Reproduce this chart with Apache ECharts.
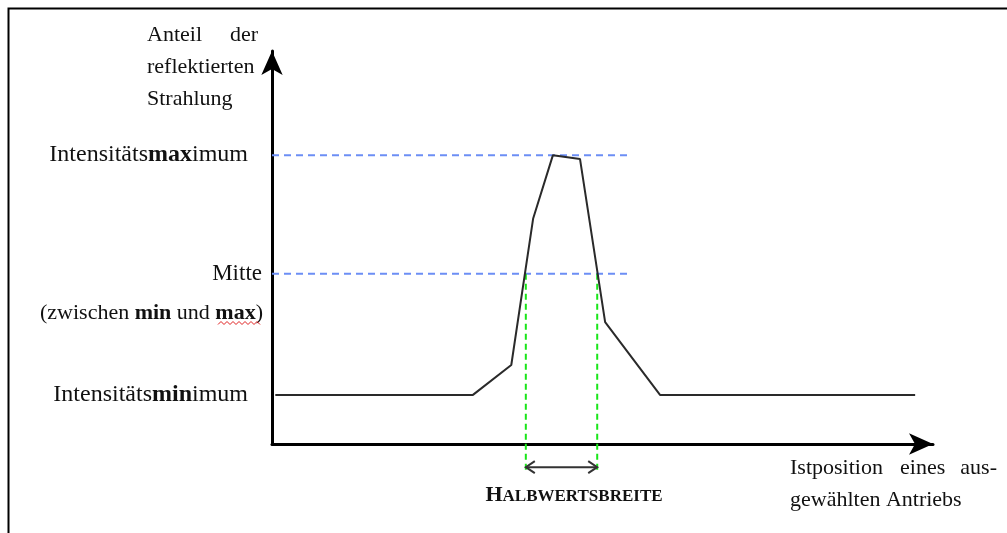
<!DOCTYPE html>
<html><head><meta charset="utf-8">
<script src="https://cdn.jsdelivr.net/npm/echarts@6/dist/echarts.min.js"></script>
<style>html,body{margin:0;padding:0;background:#fff}#c{width:1007px;height:533px}</style>
</head><body><div id="c"></div>
<script>
// ---- data (arbitrary units) ----
const positionX = [0.5, 30.4, 36.2, 39.5, 42.5, 46.6, 50.4, 58.7, 97.3];
const intensity = [12.5, 12.5, 20.1, 57.3, 73.5, 72.5, 31.0, 12.5, 12.5];
const levelMin = 12.5;
const levelMax = 73.5;
const levelMid = 43.3;
const halfLeft = 38.4;
const halfRight = 49.2;
const guideEnd = 54.0;
const widthArrowLevel = -5.9;
const greenBottom = -6.6;

const FONT = '"Liberation Serif","Times New Roman",serif';
const chart = echarts.init(document.getElementById('c'), null, {renderer: 'canvas'});

function axisCommon(max) {
  return {
    type: 'value', min: 0, max: max,
    axisLine: {show: true, onZero: false, symbol: ['none', 'arrow'], symbolSize: [16, 24],
      lineStyle: {color: '#000', width: 3}},
    axisTick: {show: false}, axisLabel: {show: false}, splitLine: {show: false}
  };
}

const dashBlue = {color: '#6c8ef5', width: 2, type: [7, 5]};
const dashGreen = {color: '#19e619', width: 2, type: [6, 4]};

const option = {
  animation: false,
  backgroundColor: '#fff',
  grid: {left: 272, right: 74, top: 51, bottom: 89},
  xAxis: axisCommon(100),
  yAxis: axisCommon(100),
  series: [
    {type: 'line', data: [[0, levelMax], [guideEnd, levelMax]], symbol: 'none', lineStyle: dashBlue, z: 2},
    {type: 'line', data: [[0, levelMid], [guideEnd, levelMid]], symbol: 'none', lineStyle: dashBlue, z: 2},
    {type: 'line', data: [[halfLeft, levelMid], [halfLeft, greenBottom]], symbol: 'none', lineStyle: dashGreen, clip: false, z: 2},
    {type: 'line', data: [[halfRight, levelMid], [halfRight, greenBottom]], symbol: 'none', lineStyle: dashGreen, clip: false, z: 2},
    {type: 'line', data: positionX.map((x, i) => [x, intensity[i]]), symbol: 'none',
      lineStyle: {color: '#2a2a2a', width: 2}, z: 3},
    {type: 'custom', clip: false, data: [[halfLeft, halfRight, widthArrowLevel]], z: 4,
      renderItem: function (params, api) {
        const a = api.coord([api.value(0), api.value(2)]);
        const b = api.coord([api.value(1), api.value(2)]);
        const s = {stroke: '#333', lineWidth: 2, fill: null};
        const h = 9, v = 6;
        return {type: 'group', children: [
          {type: 'line', shape: {x1: a[0], y1: a[1], x2: b[0], y2: b[1]}, style: s},
          {type: 'polyline', shape: {points: [[a[0] + h, a[1] - v], [a[0], a[1]], [a[0] + h, a[1] + v]]}, style: s},
          {type: 'polyline', shape: {points: [[b[0] - h, b[1] - v], [b[0], b[1]], [b[0] - h, b[1] + v]]}, style: s}
        ]};
      }}
  ]
};
chart.setOption(option);

const yPix = v => chart.convertToPixel({gridIndex: 0}, [0, v])[1];
function mkRich(size) {
  return {
    n: {fontFamily: FONT, fontSize: size, color: '#111'},
    b: {fontFamily: FONT, fontSize: size, fontWeight: 'bold', color: '#000'}
  };
}
function txt(x, y, text, align, size, extra) {
  size = size || 22;
  return {type: 'text', x: x, y: y, silent: true,
    style: Object.assign({text: text, align: align, verticalAlign: 'middle',
      fontFamily: FONT, fontSize: size, fill: '#111', rich: mkRich(size)}, extra || {})};
}
// squiggle under "max"
const sq = [];
for (let i = 0; i <= 14; i++) sq.push([218 + i * 3, 323 + (i % 2 ? -1.5 : 1.5)]);

chart.setOption({graphic: [
  {type: 'rect', shape: {x: 8.5, y: 8.5, width: 1100, height: 700}, style: {fill: null, stroke: '#000', lineWidth: 2}, silent: true},
  txt(147, 35, 'Anteil', 'left'),
  txt(258, 35, 'der', 'right'),
  txt(147, 67, 'reflektierten', 'left'),
  txt(147, 99, 'Strahlung', 'left'),
  txt(248, yPix(levelMax), '{n|Intensitäts}{b|max}{n|imum}', 'right', 24),
  txt(262, yPix(levelMid), 'Mitte', 'right', 23),
  txt(263, yPix(levelMid) + 39, '{n|(zwischen }{b|min}{n| und }{b|max}{n|)}', 'right', 22),
  txt(248, yPix(levelMin), '{n|Intensitäts}{b|min}{n|imum}', 'right', 24),
  {type: 'polyline', shape: {points: sq}, style: {stroke: '#e02020', lineWidth: 1, fill: null}, silent: true},
  txt(574, 495, '{h|H}{s|ALBWERTSBREITE}', 'center', 22, {rich: {
    h: {fontFamily: FONT, fontSize: 22, fontWeight: 'bold', color: '#000'},
    s: {fontFamily: FONT, fontSize: 17, fontWeight: 'bold', color: '#000', padding: [3, 0, 0, 0]}}}),
  txt(790, 468, 'Istposition', 'left'),
  txt(900, 468, 'eines', 'left'),
  txt(997, 468, 'aus-', 'right'),
  txt(790, 500, 'gewählten Antriebs', 'left')
]});
</script>
</body></html>
